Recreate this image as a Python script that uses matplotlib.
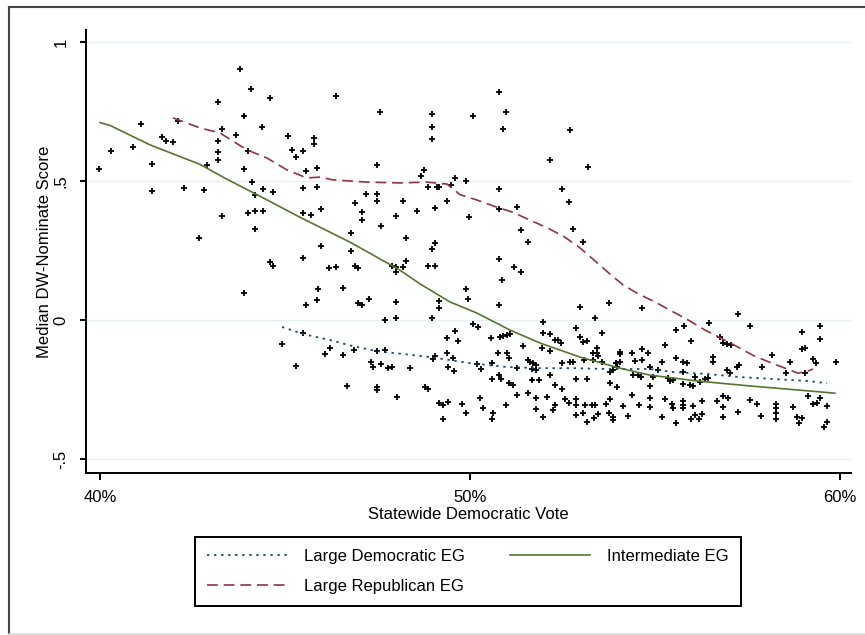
import matplotlib
matplotlib.use("Agg")
import matplotlib.pyplot as plt
from matplotlib.lines import Line2D

# ---------------- data ----------------
vote_share = [
    39.97, 40.30, 40.89, 41.11, 41.41, 41.41, 41.68, 41.78, 41.97, 42.11,
    42.27, 42.68, 42.81, 42.89, 43.19, 43.19, 43.19, 43.19, 43.30, 43.30,
    43.68, 43.78, 43.89, 43.89, 43.89, 44.00, 44.00, 44.08, 44.11, 44.19,
    44.19, 44.19, 44.38, 44.41, 44.41, 44.59, 44.59, 44.68, 44.68, 45.08,
    45.19, 45.30, 45.49, 45.49, 45.49, 45.49, 45.57, 45.57, 45.70, 45.78,
    45.78, 45.86, 45.86, 45.89, 45.86, 45.97, 45.97, 46.19, 46.38, 46.38,
    46.57, 46.78, 46.78, 46.89, 46.89, 46.97, 46.97, 47.08, 47.08, 47.08,
    47.19, 47.27, 47.49, 47.49, 47.49, 47.57, 47.59, 47.70, 47.89, 48.00,
    48.00, 48.00, 48.00, 48.00, 48.19, 48.19, 48.27, 48.27, 48.57, 48.68,
    48.76, 48.86, 48.86, 48.97, 48.97, 48.97, 48.97, 48.97, 49.05, 49.05,
    49.05, 49.11, 49.16, 49.16, 49.38, 50.08, 50.78, 50.97, 50.89, 52.16,
    52.70, 53.19, 49.59, 49.89, 49.16, 49.49, 50.78, 52.49, 49.97, 50.78,
    51.27, 52.68, 51.38, 51.57, 52.78, 53.05, 50.78, 51.19, 51.38, 50.86,
    49.89, 49.95, 50.78, 52.97, 53.76, 54.65, 53.38, 57.24, 50.08, 50.22,
    49.59, 51.97, 51.97, 52.16, 52.86, 53.57, 55.57, 55.78, 56.46, 57.57,
    58.97, 59.46, 56.76, 44.92, 45.30, 45.49, 46.08, 46.22, 46.57, 46.68,
    46.86, 47.32, 47.38, 47.49, 47.59, 47.70, 47.49, 47.49, 47.78, 47.89,
    48.03, 48.38, 48.78, 48.86, 49.00, 49.05, 49.16, 49.27, 49.27, 49.38,
    49.38, 49.41, 49.41, 49.68, 49.57, 49.78, 49.89, 49.54,
    50.57, 50.89, 51.00, 51.08, 50.81, 52.30, 52.38, 52.46, 52.97, 53.05,
    53.16, 51.43, 51.95, 52.16, 50.76, 51.00, 51.05, 54.05, 54.05, 54.38,
    54.65, 54.81, 53.43, 53.43, 53.46, 53.32, 50.19, 50.30, 50.59, 51.57,
    51.62, 51.70, 51.78, 51.68, 51.78, 52.49, 52.70, 52.78, 53.08, 53.32,
    53.57, 54.05, 53.95, 54.46, 54.65, 53.97, 53.86, 53.78, 54.41, 54.54,
    54.62, 50.59, 50.84, 50.78, 51.27, 51.68, 51.86, 52.16, 52.30, 52.49,
    52.86, 53.16, 53.78, 53.97, 51.05, 51.16, 51.27, 51.57, 51.78, 52.08,
    52.57, 52.68, 52.86, 52.86, 53.11, 53.30, 53.38, 53.68, 53.78, 54.14,
    54.38, 54.57, 50.27, 50.35, 50.62, 50.97, 51.78, 52.24, 52.30, 52.86,
    51.97, 50.59, 53.16, 53.35, 53.46, 53.76, 53.86, 53.86, 54.27, 53.05,
    55.97, 55.27, 56.84, 56.95, 57.05, 59.46, 58.97, 59.05, 58.16, 55.57,
    55.76, 55.86, 56.57, 56.57, 55.19, 54.86, 55.08, 55.76, 57.22, 57.27,
    56.95, 57.03, 57.89, 58.65, 59.27, 59.35, 59.89, 58.54, 59.05, 54.95,
    55.35, 55.41, 55.49, 56.08, 56.35, 56.43, 56.22, 55.95, 56.03, 55.76,
    54.86, 55.27, 55.46, 55.49, 55.76, 55.76, 55.76, 56.03, 56.27, 56.27,
    56.68, 56.84, 56.97, 56.84, 57.57, 57.76, 58.27, 58.27, 58.73, 59.14,
    59.27, 59.38, 59.46, 59.65, 54.86, 54.86, 55.19, 55.57, 55.97, 56.08,
    56.19, 56.84, 57.24, 57.86, 58.27, 58.27, 58.84, 58.97, 58.89, 59.65,
    59.57,
]
dw_score = [
    0.543, 0.608, 0.622, 0.705, 0.561, 0.464, 0.658, 0.644, 0.640, 0.716,
    0.475, 0.295, 0.468, 0.558, 0.784, 0.644, 0.604, 0.576, 0.687, 0.374,
    0.665, 0.903, 0.734, 0.543, 0.097, 0.608, 0.385, 0.831, 0.496, 0.450,
    0.392, 0.327, 0.694, 0.471, 0.392, 0.799, 0.209, 0.460, 0.194, 0.662,
    0.612, 0.586, 0.608, 0.475, 0.385, 0.223, 0.536, 0.054, 0.378, 0.655,
    0.633, 0.547, 0.478, 0.112, 0.072, 0.399, 0.266, 0.187, 0.806, 0.191,
    0.115, 0.313, 0.248, 0.421, 0.194, 0.187, 0.061, 0.388, 0.360, 0.054,
    0.453, 0.076, 0.558, 0.453, 0.428, 0.748, 0.338, 0.000, 0.194, 0.374,
    0.191, 0.173, 0.065, 0.007, 0.428, 0.191, 0.295, 0.212, 0.392, 0.518,
    0.540, 0.478, 0.194, 0.255, 0.007, 0.741, 0.694, 0.651, 0.403, 0.277,
    0.194, 0.478, 0.068, 0.043, 0.428, 0.734, 0.820, 0.748, 0.687, 0.576,
    0.683, 0.550, 0.511, 0.500, 0.478, 0.486, 0.471, 0.471, 0.371, 0.399,
    0.406, 0.424, 0.324, 0.281, 0.327, 0.281, 0.219, 0.191, 0.173, 0.144,
    0.112, 0.076, 0.054, 0.047, 0.061, 0.043, 0.007, 0.022, -0.014, -0.025,
    -0.040, -0.007, -0.047, -0.050, -0.029, -0.047, -0.036, -0.022, -0.011, -0.022,
    -0.043, -0.022, -0.061, -0.086, -0.165, -0.047, -0.122, -0.101, -0.126, -0.237,
    -0.108, -0.151, -0.169, -0.112, -0.158, -0.108, -0.241, -0.252, -0.173, -0.169,
    -0.277, -0.173, -0.241, -0.248, -0.140, -0.129, -0.299, -0.306, -0.356, -0.065,
    -0.119, -0.169, -0.295, -0.076, -0.183, -0.302, -0.335, -0.137,
    -0.065, -0.058, -0.054, -0.050, -0.061, -0.072, -0.072, -0.083, -0.061, -0.079,
    -0.076, -0.094, -0.101, -0.112, -0.119, -0.119, -0.137, -0.115, -0.122, -0.119,
    -0.104, -0.119, -0.101, -0.119, -0.129, -0.119, -0.158, -0.176, -0.155, -0.144,
    -0.151, -0.155, -0.162, -0.176, -0.180, -0.155, -0.151, -0.151, -0.144, -0.144,
    -0.151, -0.151, -0.155, -0.147, -0.144, -0.169, -0.180, -0.187, -0.198, -0.198,
    -0.205, -0.212, -0.212, -0.198, -0.173, -0.216, -0.216, -0.198, -0.234, -0.248,
    -0.212, -0.212, -0.227, -0.241, -0.227, -0.234, -0.270, -0.263, -0.281, -0.277,
    -0.284, -0.299, -0.284, -0.306, -0.306, -0.306, -0.306, -0.302, -0.284, -0.309,
    -0.270, -0.306, -0.281, -0.317, -0.335, -0.306, -0.320, -0.324, -0.306, -0.342,
    -0.349, -0.356, -0.367, -0.353, -0.338, -0.335, -0.349, -0.360, -0.345, -0.335,
    -0.076, -0.090, -0.083, -0.086, -0.090, -0.068, -0.104, -0.101, -0.126, -0.137,
    -0.151, -0.155, -0.133, -0.151, -0.151, -0.169, -0.180, -0.187, -0.169, -0.162,
    -0.180, -0.191, -0.169, -0.151, -0.140, -0.155, -0.151, -0.191, -0.191, -0.205,
    -0.209, -0.219, -0.216, -0.205, -0.212, -0.209, -0.223, -0.234, -0.237, -0.230,
    -0.237, -0.284, -0.302, -0.317, -0.291, -0.306, -0.317, -0.309, -0.291, -0.338,
    -0.291, -0.273, -0.281, -0.313, -0.288, -0.302, -0.302, -0.317, -0.313, -0.273,
    -0.302, -0.299, -0.281, -0.309, -0.281, -0.313, -0.349, -0.371, -0.356, -0.342,
    -0.356, -0.349, -0.331, -0.345, -0.335, -0.356, -0.349, -0.353, -0.371, -0.367,
    -0.385,
]

# lowess fits
dem_x = [44.92, 45.49, 46.22, 46.84, 47.49, 48.19, 48.92, 50.00, 51.00, 51.89,
         52.78, 53.70, 54.86, 55.49, 56.41, 57.30, 58.19, 59.11, 59.65]
dem_y = [-0.025, -0.050, -0.072, -0.094, -0.112, -0.122, -0.133, -0.155, -0.169, -0.173,
         -0.173, -0.176, -0.176, -0.187, -0.194, -0.205, -0.212, -0.219, -0.227]

int_x = [40.00, 40.27, 41.35, 42.70, 43.38, 44.40, 45.40, 46.76, 48.10, 48.65,
         49.46, 50.19, 51.08, 51.90, 52.97, 54.05, 54.86, 56.20, 57.57, 58.90, 59.86]
int_y = [0.71, 0.70, 0.63, 0.56, 0.51, 0.44, 0.37, 0.28, 0.18, 0.13,
         0.065, 0.025, -0.036, -0.083, -0.133, -0.173, -0.198, -0.220, -0.237, -0.252, -0.263]

rep_x = [41.97, 42.70, 43.24, 43.97, 44.51, 45.05, 45.59, 45.95, 46.30, 47.22,
         48.11, 48.84, 49.38, 49.73, 50.18, 50.68, 51.17, 51.67, 52.07, 52.54,
         52.95, 53.35, 53.76, 54.14, 54.55, 55.00, 55.48, 55.90, 56.35, 56.78,
         57.24, 57.68, 58.16, 58.65, 58.86, 59.14, 59.27]
rep_y = [0.727, 0.691, 0.673, 0.612, 0.583, 0.540, 0.511, 0.514, 0.504, 0.496,
         0.493, 0.496, 0.489, 0.451, 0.432, 0.408, 0.387, 0.356, 0.333, 0.300,
         0.262, 0.216, 0.168, 0.126, 0.094, 0.065, 0.030, 0.000, -0.036, -0.065,
         -0.097, -0.129, -0.155, -0.180, -0.191, -0.183, -0.176]

x_ticks = [40, 50, 60]
x_ticklabels = ["40%", "50%", "60%"]
y_ticks = [-0.5, 0, 0.5, 1]
y_ticklabels = ["-.5", "0", ".5", "1"]

# ---------------- figure ----------------
plt.rcParams['font.family'] = ['Liberation Sans', 'DejaVu Sans']
W, H = 865, 635
fig = plt.figure(figsize=(W / 100, H / 100), dpi=100)
fig.patch.set_facecolor("white")

ax = fig.add_axes([86 / W, 162 / H, 765 / W, 443 / H])
ax.set_xlim(39.622, 60.297)
ax.set_ylim(-0.550, 1.043)

for yv in y_ticks:
    ax.axhline(yv, color="#e5eef0", lw=1.0, zorder=0)

ax.plot(vote_share, dw_score, linestyle="none", marker="+", ms=4.0, mew=1.3,
        color="black", zorder=2)

navy = "#1a476f"
maroon = "#90353b"
green = "#55752f"
l_dem, = ax.plot(dem_x, dem_y, color=navy, lw=1.3, linestyle=(0, (1.3, 2.6)), zorder=3)
l_int, = ax.plot(int_x, int_y, color=green, lw=1.2, linestyle="-", zorder=3)
l_rep, = ax.plot(rep_x, rep_y, color=maroon, lw=1.2, linestyle=(0, (6.5, 3.5)), zorder=3)

for s in ["top", "right"]:
    ax.spines[s].set_visible(False)
for s in ["left", "bottom"]:
    ax.spines[s].set_linewidth(1.4)
    ax.spines[s].set_color("black")

ax.set_xticks(x_ticks)
ax.set_xticklabels(x_ticklabels)
ax.set_yticks(y_ticks)
ax.set_yticklabels(y_ticklabels, rotation=90, va="center")
ax.tick_params(axis="x", length=5, width=1.4, pad=7, labelsize=12)
ax.tick_params(axis="y", length=4.5, width=1.4, pad=8, labelsize=12)

ax.set_xlabel("Statewide Democratic Vote", fontsize=12)
ax.xaxis.set_label_coords(0.5, -0.076)
ax.set_ylabel("Median DW-Nominate Score", fontsize=12)
ax.yaxis.set_label_coords(-0.045, 0.5)

leg = fig.legend([l_dem, l_rep, l_int],
                 ["Large Democratic EG", "Large Republican EG", "Intermediate EG"],
                 ncol=2, loc="lower left", bbox_to_anchor=(195 / W, 29 / H),
                 bbox_transform=fig.transFigure, borderaxespad=0,
                 fontsize=12, handlelength=4.8, handletextpad=1.0,
                 columnspacing=2.75, borderpad=0.72, labelspacing=0.9,
                 fancybox=False, framealpha=1, edgecolor="black")
leg.get_frame().set_linewidth(1.4)

# outer frame of the graph region
fig.add_artist(Line2D([9 / W, 1], [1 - 6.5 / H, 1 - 6.5 / H], transform=fig.transFigure,
                      color="#444444", lw=1.5))
fig.add_artist(Line2D([9 / W, 9 / W], [0, 1 - 6.5 / H], transform=fig.transFigure,
                      color="#444444", lw=1.5))
fig.add_artist(Line2D([9 / W, 1], [1.2 / H, 1.2 / H], transform=fig.transFigure,
                      color="#dddddd", lw=1.2))

fig.savefig("out.png", dpi=100)
